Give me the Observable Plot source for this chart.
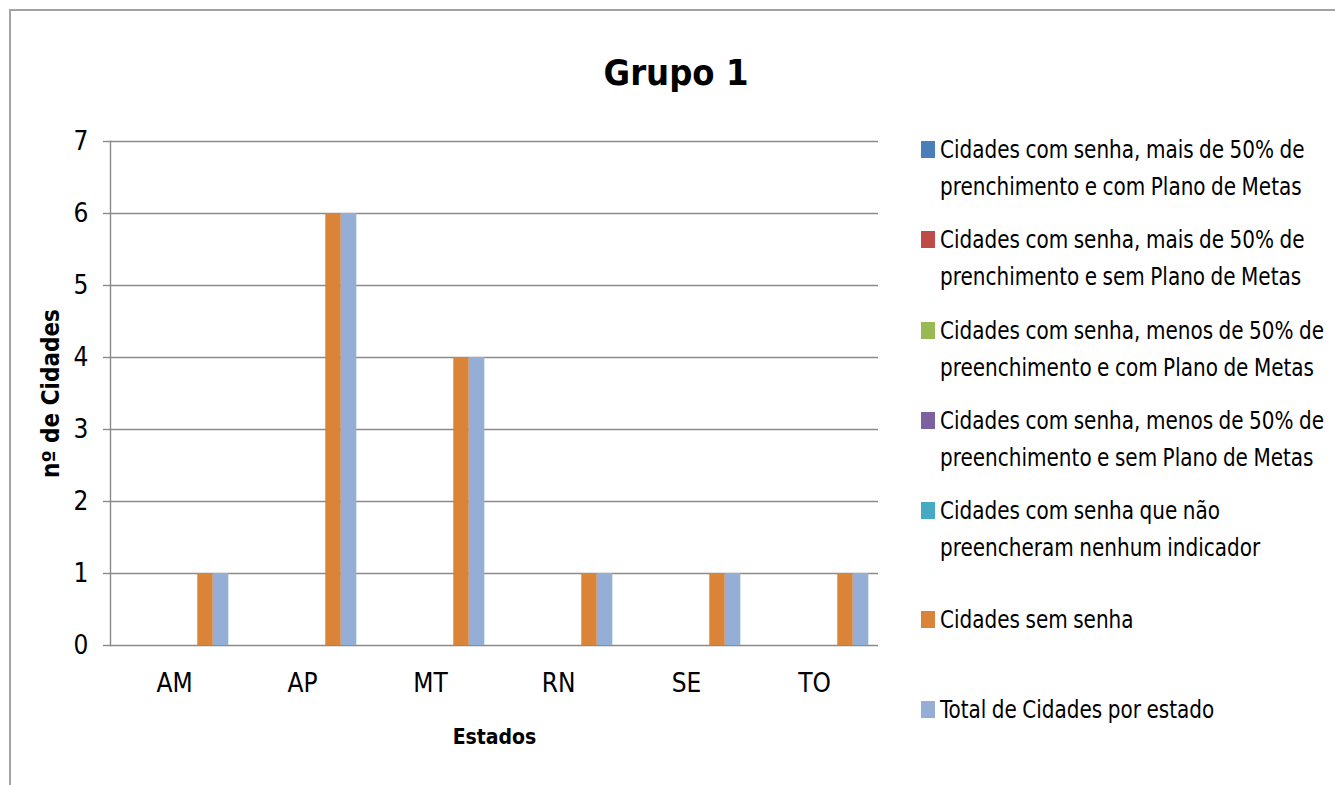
<!DOCTYPE html>
<html>
<head>
<meta charset="utf-8">
<script src="https://cdn.jsdelivr.net/npm/d3@7"></script>
<script src="https://cdn.jsdelivr.net/npm/@observablehq/plot@0.6"></script>
<style>
html, body { margin: 0; padding: 0; background: #fff; }
#wrap { position: relative; width: 1335px; height: 785px; overflow: hidden;
  font-family: "DejaVu Sans Condensed", "DejaVu Sans", sans-serif; font-stretch: condensed; color: #000; }
#border { position: absolute; left: 9px; top: 9px; right: -5px; bottom: -5px;
  border-top: 2px solid #a3a3a3; border-left: 2px solid #a3a3a3; }
#title { position: absolute; left: 0; top: 55px; width: 1352px; text-align: center;
  font-size: 36px; line-height: 36px; font-weight: bold; }
#chart { position: absolute; left: 0; top: 0; }
#legend { position: absolute; left: 921px; top: 123px; }
.item { height: 90.3px; display: flex; align-items: center; }
.entry { display: flex; align-items: flex-start; }
.sw { width: 14px; height: 17px; margin-top: 10px; margin-right: 5px; flex: none; }
.txt { font-size: 25px; line-height: 37px; white-space: nowrap; word-spacing: -1px;
  transform: scaleX(0.89); transform-origin: left center; }
g[aria-label="y-axis label"] text { font-weight: bold; font-size: 24px; }
g[aria-label="fx-axis label"] text { font-weight: bold; font-size: 21px; }
</style>
</head>
<body>
<div id="wrap">
  <div id="border"></div>
  <div id="chart"></div>
  <div id="title">Grupo 1</div>
  <div id="legend"></div>
</div>
<script>
// ---- data ----
const states = ["AM", "AP", "MT", "RN", "SE", "TO"];
const seriesNames = [
  "Cidades com senha, mais de 50% de prenchimento e com Plano de Metas",
  "Cidades com senha, mais de 50% de prenchimento e sem Plano de Metas",
  "Cidades com senha, menos de 50% de preenchimento e com Plano de Metas",
  "Cidades com senha, menos de 50% de preenchimento e sem Plano de Metas",
  "Cidades com senha que não preencheram nenhum indicador",
  "Cidades sem senha",
  "Total de Cidades por estado"
];
const legendLines = [
  ["Cidades com senha, mais de 50% de", "prenchimento e com Plano de Metas"],
  ["Cidades com senha, mais de 50% de", "prenchimento e sem Plano de Metas"],
  ["Cidades com senha, menos de 50% de", "preenchimento e com Plano de Metas"],
  ["Cidades com senha, menos de 50% de", "preenchimento e sem Plano de Metas"],
  ["Cidades com senha que não", "preencheram nenhum indicador"],
  ["Cidades sem senha"],
  ["Total de Cidades por estado"]
];
const seriesColors = ["#4a7ebb", "#be4b48", "#98b954", "#7d60a0", "#46aac5", "#da843a", "#95aed5"];
const comSenhaMais50ComPlano = [0, 0, 0, 0, 0, 0];
const comSenhaMais50SemPlano = [0, 0, 0, 0, 0, 0];
const comSenhaMenos50ComPlano = [0, 0, 0, 0, 0, 0];
const comSenhaMenos50SemPlano = [0, 0, 0, 0, 0, 0];
const comSenhaNenhumIndicador = [0, 0, 0, 0, 0, 0];
const semSenha = [1, 6, 4, 1, 1, 1];
const totalPorEstado = [1, 6, 4, 1, 1, 1];
const yTicks = [0, 1, 2, 3, 4, 5, 6, 7];

const seriesValues = [comSenhaMais50ComPlano, comSenhaMais50SemPlano, comSenhaMenos50ComPlano,
  comSenhaMenos50SemPlano, comSenhaNenhumIndicador, semSenha, totalPorEstado];
const data = states.flatMap((st, i) => seriesNames.map((nm, j) => ({state: st, series: nm, value: seriesValues[j][i]})));

const gray = "#8a8a8a";
const font = '"DejaVu Sans Condensed", "DejaVu Sans", sans-serif';
const chart = Plot.plot({
  width: 900,
  height: 785,
  marginLeft: 108,
  marginRight: 20,
  marginTop: 141,
  marginBottom: 140,
  style: {fontFamily: font, fontStretch: "condensed", fontSize: "26px", color: "#000", background: "transparent", overflow: "visible"},
  fx: {domain: states, paddingInner: 0, paddingOuter: 0, label: "Estados"},
  x: {domain: seriesNames, paddingInner: 0, paddingOuter: 0.625, round: false, axis: null},
  y: {domain: [0, 7], label: "nº de Cidades"},
  color: {domain: seriesNames, range: seriesColors},
  marks: [
    Plot.gridY(yTicks, {stroke: gray, strokeOpacity: 1, strokeWidth: 1.4}),
    Plot.frame({anchor: "left", facet: "super", stroke: gray, strokeWidth: 1.4}),
    Plot.barY(data, {fx: "state", x: "series", y: "value", fill: "series"}),
    Plot.axisY(yTicks, {tickSize: 7, tickPadding: 15, stroke: gray, strokeWidth: 1.4, fontSize: 26,
      tickFormat: d => String(d),
      label: "nº de Cidades", labelArrow: "none", labelAnchor: "center", labelOffset: 69}),
    Plot.axisFx({anchor: "bottom", tickSize: 0, tickPadding: 28, fontSize: 26,
      label: "Estados", labelArrow: "none", labelAnchor: "center", labelOffset: 98})
  ]
});
document.getElementById("chart").appendChild(chart);

const legend = document.getElementById("legend");
seriesNames.forEach((nm, j) => {
  const item = document.createElement("div");
  item.className = "item";
  const entry = document.createElement("div");
  entry.className = "entry";
  const sw = document.createElement("div");
  sw.className = "sw";
  sw.style.background = seriesColors[j];
  const txt = document.createElement("div");
  txt.className = "txt";
  txt.innerHTML = legendLines[j].join("<br>");
  entry.appendChild(sw);
  entry.appendChild(txt);
  item.appendChild(entry);
  legend.appendChild(item);
});
</script>
</body>
</html>
